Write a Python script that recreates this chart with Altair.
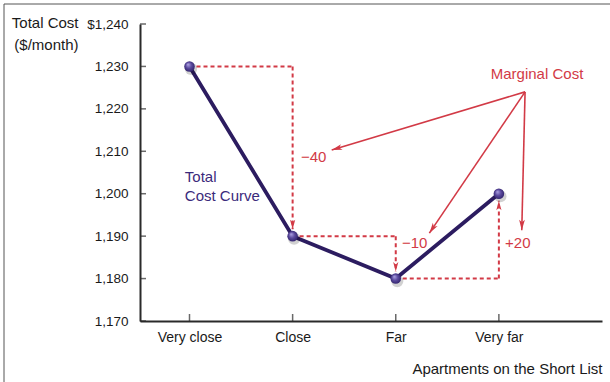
import json
import math
import altair as alt
import pandas as pd

# ---------------- data ----------------
categories = ["Very close", "Close", "Far", "Very far"]
positions = [1, 2, 3, 4]
costs = [1230, 1190, 1180, 1200]
y_ticks = [1170, 1180, 1190, 1200, 1210, 1220, 1230, 1240]

curve_label_lines = ["Total", "Cost Curve"]
curve_label_x = [0.955, 0.955]
curve_label_y = [1204.0, 1199.4]

mc_title = "Marginal Cost"
mc_title_x = 4.37
mc_title_y = 1228.2
mc_origin_x = 4.254
mc_origin_y = 1224.0
mc_tip_x = [2.379, 3.326, 4.222]
mc_tip_y = [1210.3, 1190.7, 1191.4]
mc_label_x = [2.08, 3.06, 4.06]
mc_label_y = [1208.7, 1188.4, 1188.4]

# ---------------- layout / style ----------------
W, H = 462, 297
X_DOM = [0.52, 5.0]
Y_DOM = [1170, 1240]
SX = W / (X_DOM[1] - X_DOM[0])
SY = H / (Y_DOM[1] - Y_DOM[0])
FONT = "Liberation Sans"
PURPLE = "#2c1c60"
PURPLE_TXT = "#3b2a7b"
RED = "#d23a46"
AXIS_C = "#2a2a2a"
HEAD = "M0,0 L0.55,2 L0,1.5 L-0.55,2 Z"

xs = alt.Scale(domain=X_DOM, nice=False, zero=False)
ys = alt.Scale(domain=Y_DOM, nice=False, zero=False)

x_axis = alt.Axis(
    values=positions,
    labelExpr=json.dumps(categories).replace('"', "'") + "[datum.value - 1]",
    grid=False, ticks=False, tickSize=0,
    domainColor=AXIS_C, domainWidth=2,
    labelFontSize=14, labelColor="#1a1a1a", labelPadding=9, labelFont=FONT,
    title="Apartments on the Short List", titleFont=FONT, titleFontSize=15,
    titleFontWeight="normal", titleColor="#1a1a1a",
    titleAnchor="end", titleAlign="right", titleY=47, titleBaseline="middle",
)
y_axis = alt.Axis(
    values=y_ticks,
    labelExpr="datum.value == 1240 ? '$1,240' : format(datum.value, ',')",
    grid=False, ticks=False, tickSize=0,
    domainColor=AXIS_C, domainWidth=2,
    labelFontSize=13.5, labelColor="#1a1a1a", labelPadding=12, labelFont=FONT,
    title=["Total Cost", "($/month)"], titleFont=FONT, titleFontSize=15,
    titleFontWeight="normal", titleColor="#1a1a1a", titleAngle=0,
    titleAlign="right", titleX=-62, titleY=3, titleBaseline="alphabetic",
    titleLineHeight=22,
)


def X(field):
    return alt.X(field, type="quantitative", scale=xs, axis=x_axis)


def Y(field):
    return alt.Y(field, type="quantitative", scale=ys, axis=y_axis)


def head_angle(x1, y1, x2, y2):
    dx = (x2 - x1) * SX
    dy = -(y2 - y1) * SY
    return math.degrees(math.atan2(dx, -dy)) % 360


# ---------------- derived tables ----------------
pts = pd.DataFrame({"x": positions, "y": costs})

seg_rows, dhead_rows, mlabels = [], [], []
for i in range(len(costs) - 1):
    x0, x1 = positions[i], positions[i + 1]
    c0, c1 = costs[i], costs[i + 1]
    tip = c1 + 7 / SY if c1 < c0 else c1 - 7 / SY
    seg_rows.append({"x": x0, "y": c0, "x2": x1, "y2": c0})
    seg_rows.append({"x": x1, "y": c0, "x2": x1, "y2": tip})
    dhead_rows.append({"x": x1, "y": tip, "a": 180.0 if c1 < c0 else 0.0})
    d = c1 - c0
    mlabels.append(("+" if d > 0 else "\u2212") + str(abs(d)))
segs = pd.DataFrame(seg_rows)
dheads = pd.DataFrame(dhead_rows)

arrows = pd.DataFrame({
    "x": [mc_origin_x] * 3, "y": [mc_origin_y] * 3,
    "x2": mc_tip_x, "y2": mc_tip_y,
})
aheads = pd.DataFrame({
    "x": mc_tip_x, "y": mc_tip_y,
    "a": [head_angle(mc_origin_x, mc_origin_y, tx, ty) for tx, ty in zip(mc_tip_x, mc_tip_y)],
})
mlab = pd.DataFrame({"x": mc_label_x, "y": mc_label_y, "t": mlabels})
mtitle = pd.DataFrame({"x": [mc_title_x], "y": [mc_title_y], "t": [mc_title]})
clab = pd.DataFrame({"x": curve_label_x, "y": curve_label_y, "t": curve_label_lines})
ytk = pd.DataFrame({"y": y_ticks})
xtk = pd.DataFrame({"x": positions})
dummy = pd.DataFrame({"a": [0]})

# ---------------- layers ----------------
line = alt.Chart(pts).mark_line(color=PURPLE, strokeWidth=3.8).encode(x=X("x"), y=Y("y"))

yticks = alt.Chart(ytk).mark_tick(orient="horizontal", size=6, thickness=1.5, color=AXIS_C).encode(
    x=alt.value(3), y=Y("y"))
xticks = alt.Chart(xtk).mark_tick(orient="vertical", size=7, thickness=1.5, color=AXIS_C).encode(
    x=X("x"), y=alt.value(H - 3.5))

dashed = alt.Chart(segs).mark_rule(color=RED, strokeWidth=2, strokeDash=[4, 3]).encode(
    x=X("x"), y=Y("y"), x2="x2:Q", y2="y2:Q")
dashed_heads = alt.Chart(dheads).mark_point(
    shape=HEAD, filled=True, fill=RED, strokeWidth=0, opacity=1, size=90).encode(
    x=X("x"), y=Y("y"), angle=alt.Angle("a:Q", scale=None))

mc_lines = alt.Chart(arrows).mark_rule(color=RED, strokeWidth=1.6).encode(
    x=X("x"), y=Y("y"), x2="x2:Q", y2="y2:Q")
mc_heads = alt.Chart(aheads).mark_point(
    shape=HEAD, filled=True, fill=RED, strokeWidth=0, opacity=1, size=110).encode(
    x=X("x"), y=Y("y"), angle=alt.Angle("a:Q", scale=None))

shadow = alt.Chart(pts).mark_circle(color="#000000", opacity=0.18, size=150,
                                    xOffset=1.5, yOffset=2.5).encode(x=X("x"), y=Y("y"))
markers = alt.Chart(pts).mark_circle(
    size=112, opacity=1,
    fill={"gradient": "radial", "x1": 0.35, "y1": 0.3, "r1": 0.0,
          "x2": 0.5, "y2": 0.5, "r2": 0.55,
          "stops": [{"offset": 0, "color": "#b3a8e6"},
                    {"offset": 0.5, "color": "#5c4b9f"},
                    {"offset": 1, "color": "#2e2068"}]},
).encode(x=X("x"), y=Y("y"))

mc_label_txt = alt.Chart(mlab).mark_text(
    align="left", baseline="middle", font=FONT, fontSize=15, color=RED).encode(
    x=X("x"), y=Y("y"), text="t:N")
mc_title_txt = alt.Chart(mtitle).mark_text(
    align="center", baseline="middle", font=FONT, fontSize=15, color=RED).encode(
    x=X("x"), y=Y("y"), text="t:N")
curve_txt = alt.Chart(clab).mark_text(
    align="left", baseline="middle", font=FONT, fontSize=15, color=PURPLE_TXT).encode(
    x=X("x"), y=Y("y"), text="t:N")

frame = alt.Chart(dummy).mark_rect(fill=None, stroke="#555555", strokeWidth=1).encode(
    x=alt.value(-136), x2=alt.value(W + 40), y=alt.value(-20), y2=alt.value(H + 100))

chart = alt.layer(
    line, yticks, xticks, dashed, mc_lines, dashed_heads, mc_heads,
    shadow, markers, mc_label_txt, mc_title_txt, curve_txt, frame,
).properties(
    width=W, height=H,
    autosize=alt.AutoSizeParams(type="none"),
    padding={"left": 140, "top": 24, "right": 8, "bottom": 61},
    background="white",
).configure_view(stroke=None).configure_text(font=FONT)

chart.save("out.html", embed_options={"renderer": "svg", "actions": False})
